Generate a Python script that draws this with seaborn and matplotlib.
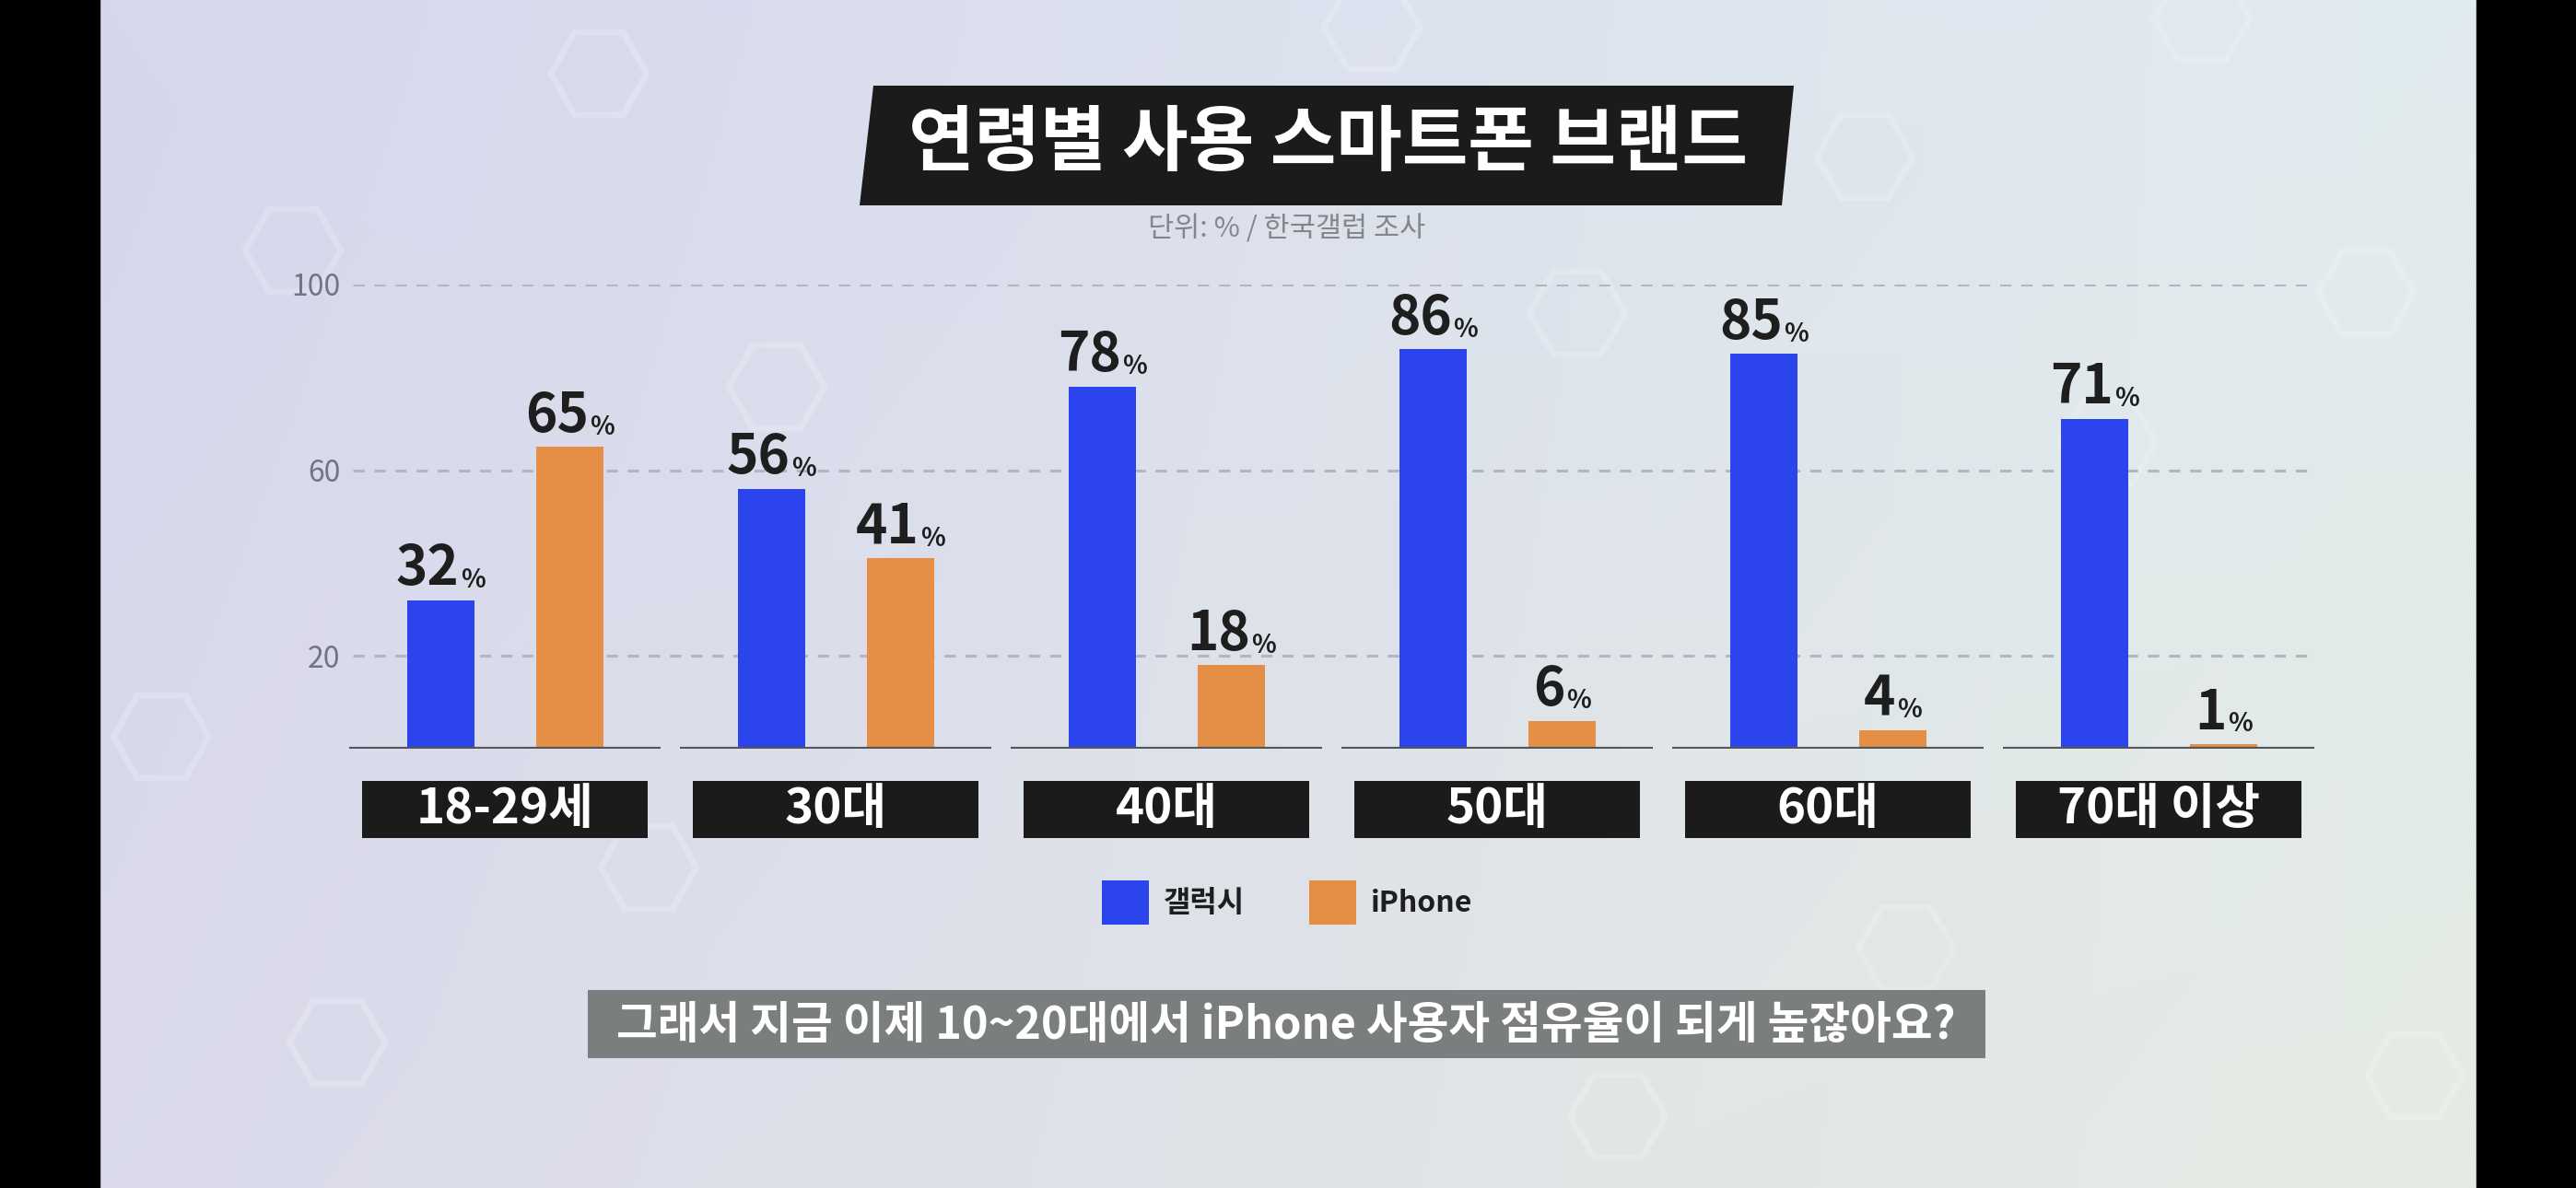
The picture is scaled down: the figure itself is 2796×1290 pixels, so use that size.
import numpy as np
import pandas as pd
import matplotlib.pyplot as plt
import seaborn as sb
from matplotlib.patches import Polygon, Rectangle, RegularPolygon

# data
ages = ["18-29세", "30대", "40대", "50대", "60대", "70대 이상"]
brands = ["갤럭시", "iPhone"]
galaxy = [32, 56, 78, 86, 85, 71]
iphone = [65, 41, 18, 6, 4, 1]
yticks = [20, 60, 100]
title = "연령별 사용 스마트폰 브랜드"
source = "단위: % / 한국갤럽 조사"
caption = "그래서 지금 이제 10~20대에서 iPhone 사용자 점유율이 되게 높잖아요?"

blue = "#2B44EE"
orange = "#E58E45"

df = pd.DataFrame({
    "age": ages * 2,
    "brand": [brands[0]] * len(ages) + [brands[1]] * len(ages),
    "value": galaxy + iphone,
})

plt.rcParams["font.family"] = ["Noto Sans CJK KR", "DejaVu Sans"]

W, H = 2796, 1290
fig = plt.figure(figsize=(W / 100, H / 100), dpi=100)

# background layer in pixel coords
bg = fig.add_axes([0, 0, 1, 1])
bg.set_xlim(0, W)
bg.set_ylim(H, 0)
bg.axis("off")

tl = np.array([214, 214, 236]) / 255
tr = np.array([225, 236, 240]) / 255
bl = np.array([218, 218, 235]) / 255
br = np.array([229, 236, 227]) / 255
u = np.linspace(0, 1, 200)[None, :, None]
v = np.linspace(0, 1, 100)[:, None, None]
grad = (1 - v) * ((1 - u) * tl + u * tr) + v * ((1 - u) * bl + u * br)
bg.imshow(grad, extent=(108, W - 108, H, 0), aspect="auto", interpolation="bilinear")

# faint watermark hexagons
marks = [(650, 80), (318, 272), (175, 800), (843, 420), (704, 942), (366, 1132),
         (1489, 30), (1712, 340), (2024, 170), (2288, 480), (2568, 318), (2069, 1030),
         (1756, 1212), (2621, 1168), (2390, 20)]
for mx, my in marks:
    bg.add_patch(RegularPolygon((mx, my), 6, radius=52, orientation=np.pi / 6,
                                fill=False, ec="white", lw=5, alpha=0.2))

bg.add_patch(Rectangle((0, 0), 108, H, color="black"))
bg.add_patch(Rectangle((W - 108, 0), 108, H, color="black"))

# title banner
bg.add_patch(Polygon([(948, 93), (1947, 93), (1934, 223), (933, 223)], closed=True,
                     fc="#1b1b1b", ec="none"))
bg.text(1441, 156, title, ha="center", va="center", fontsize=56,
        fontweight="bold", color="white")
bg.text(1397, 249, source, ha="center", va="center", fontsize=22, color="#85858a")

# caption bar
bg.add_patch(Rectangle((638, 1075), 1517, 74, fc="#7B7E7E", ec="none"))
bg.text(1396, 1113, caption, ha="center", va="center", fontsize=35,
        fontweight="bold", color="white")

# main chart
ax = fig.add_axes([372.3 / W, (H - 813.3) / H, 2150.4 / W, 504.5 / H])
sb.barplot(data=df, x="age", y="value", hue="brand", palette=[blue, orange],
           width=0.78, gap=0.48, saturation=1, errorbar=None, ax=ax)
ax.set_xlim(-0.49, 5.5)
ax.set_ylim(0, 100)
ax.set_facecolor("none")
for s in ax.spines.values():
    s.set_visible(False)
ax.set_xlabel("")
ax.set_ylabel("")
ax.set_xticks([])
ax.set_yticks(yticks)
ax.tick_params(axis="y", length=0, pad=2, labelsize=23, labelcolor="#74747f")

ax.hlines(yticks, -0.46, 5.47, colors="#b3b5c0", linestyles=(0, (4, 3.5)),
          lw=2.2, zorder=0)
for i in range(len(ages)):
    ax.hlines(0, i - 0.47, i + 0.47, colors="#55565c", lw=3, zorder=5)
    ax.add_patch(Rectangle((i - 0.432, -19.1), 0.864, 12.3, fc="#1b1b1b",
                           ec="none", clip_on=False))
    ax.text(i, -12.9, ages[i], ha="center", va="center", fontsize=38,
            fontweight="bold", color="white", clip_on=False)

# value labels: big number + small %
for cont, vals in zip(ax.containers, [galaxy, iphone]):
    for bar, val in zip(cont, vals):
        xc = bar.get_x() + bar.get_width() / 2
        num = ax.annotate(f"{val}", xy=(xc, bar.get_height()), xytext=(-10, 12),
                          textcoords="offset points", ha="center", va="baseline",
                          fontsize=42, fontweight="bold", color="#1e1e1e",
                          annotation_clip=False)
        ax.annotate("%", xy=(1, 0), xycoords=num, xytext=(1, 3),
                    textcoords="offset points", ha="left", va="bottom",
                    fontsize=20, fontweight="bold", color="#1e1e1e")

sb.move_legend(ax, "center", bbox_to_anchor=(1397 / W, 1 - 980 / H),
               bbox_transform=fig.transFigure, ncol=2, frameon=False, title=None,
               handlelength=1.6, handleheight=1.9, handletextpad=0.5,
               columnspacing=2.2, prop={"weight": "bold", "size": 23})
for t in ax.get_legend().get_texts():
    t.set_color("#1e1e1e")

fig.savefig("out.png", dpi=100)
